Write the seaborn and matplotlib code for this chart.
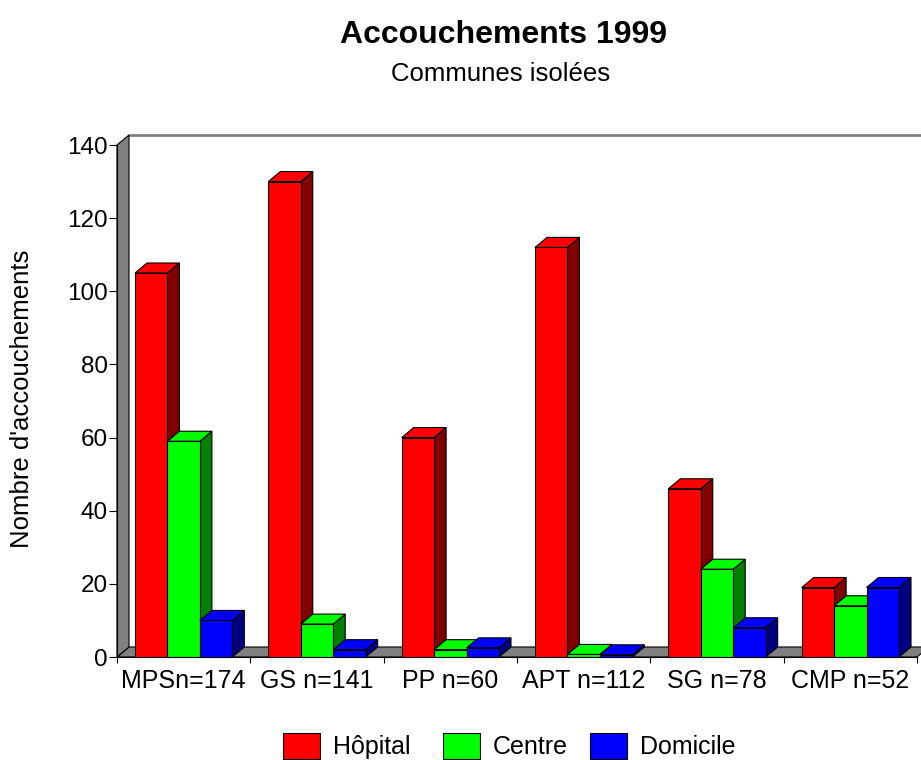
import numpy as np
import pandas as pd
import matplotlib
matplotlib.use("Agg")
import matplotlib.pyplot as plt
from matplotlib.patches import Polygon, Patch, Rectangle
from matplotlib.lines import Line2D
import seaborn as sns

# ---- data ----
categories = ["MPSn=174", "GS n=141", "PP n=60", "APT n=112", "SG n=78", "CMP n=52"]
series = ["Hôpital", "Centre", "Domicile"]
hopital = [105, 130, 60, 112, 46, 19]
centre = [59, 9, 2, 0.7, 24, 14]
domicile = [10, 2, 2.5, 0.6, 8, 19]
y_ticks = [0, 20, 40, 60, 80, 100, 120, 140]
colors = ["#FF0000", "#00FF00", "#0000FF"]

df = pd.DataFrame({
    "cat": categories * 3,
    "serie": [series[0]] * 6 + [series[1]] * 6 + [series[2]] * 6,
    "val": hopital + centre + domicile,
})

sns.set_theme(style="white")
plt.rcParams["font.family"] = ["Liberation Sans", "DejaVu Sans"]
plt.rcParams["text.color"] = "black"
plt.rcParams["xtick.color"] = "black"
plt.rcParams["ytick.color"] = "black"
plt.rcParams["axes.labelcolor"] = "black"

W, H, DPI = 921, 760, 100
fig = plt.figure(figsize=(W / DPI, H / DPI), dpi=DPI)
ax = fig.add_axes([117 / W, (H - 657) / H, 800 / W, 512 / H])
ax.set_facecolor("none")

sns.barplot(data=df, x="cat", y="val", hue="serie", palette=colors,
            order=categories, hue_order=series, width=0.73, gap=0,
            edgecolor="black", linewidth=0.8, saturation=1, legend=False, ax=ax)

bars = [p for p in ax.patches if isinstance(p, Rectangle)]
bars = sorted(bars, key=lambda p: p.get_x())

ax.set_xlim(-0.5, len(categories) - 0.5)
ax.set_ylim(0, 140)

# depth offset (12 px right, 10 px up) in data units
p0 = ax.transData.transform((0, 0))
dx, dy = ax.transData.inverted().transform(p0 + np.array([12, 10]))
x0, x1 = -0.5, len(categories) - 0.5
ymax = 140

grey = "#808080"
# floor
ax.add_patch(Polygon([(x0, 0), (x1, 0), (x1 + dx, dy), (x0 + dx, dy)],
                     closed=True, facecolor=grey, edgecolor="black", lw=0.8,
                     zorder=1, clip_on=False))
# left wall
ax.add_patch(Polygon([(x0, 0), (x0, ymax), (x0 + dx, ymax + dy), (x0 + dx, dy)],
                     closed=True, facecolor=grey, edgecolor="black", lw=0.8,
                     zorder=1, clip_on=False))
# back wall top edge
ax.add_line(Line2D([x0 + dx, x1 + 3 * dx], [ymax + dy, ymax + dy], color=grey,
                   lw=2, zorder=0.5, clip_on=False))

# 3D faces derived from seaborn's bars
for k, b in enumerate(bars):
    x, w, h = b.get_x(), b.get_width(), b.get_height()
    fc = np.array(b.get_facecolor()[:3])
    dark = tuple(fc * 0.5)
    b.set_zorder(11 + 2 * k)
    top = Polygon([(x, h), (x + w, h), (x + w + dx, h + dy), (x + dx, h + dy)],
                  closed=True, facecolor=tuple(fc), edgecolor="black", lw=0.8,
                  zorder=10 + 2 * k, clip_on=False)
    side = Polygon([(x + w, 0), (x + w + dx, dy), (x + w + dx, h + dy), (x + w, h)],
                   closed=True, facecolor=dark, edgecolor="black", lw=0.8,
                   zorder=10 + 2 * k, clip_on=False)
    ax.add_patch(side)
    ax.add_patch(top)

# axes styling
for s in ["top", "right"]:
    ax.spines[s].set_visible(False)
ax.spines["left"].set_color("black")
ax.spines["bottom"].set_color("black")
ax.spines["left"].set_linewidth(0.8)
ax.spines["bottom"].set_linewidth(0.8)
ax.spines["left"].set_zorder(50)
ax.spines["bottom"].set_zorder(50)

ax.set_yticks(y_ticks)
ax.set_yticklabels([str(v) for v in y_ticks], fontsize=17.5)
ax.tick_params(axis="y", direction="out", length=6, width=0.8, color="black",
               pad=0.5, left=True, labelcolor="black")
ax.set_xticks(range(len(categories)))
ax.set_xticklabels(categories, fontsize=18)
ax.tick_params(axis="x", which="major", length=0, pad=9, bottom=True,
               labelcolor="black")
ax.set_xticks(np.arange(len(categories) + 1) - 0.5, minor=True)
ax.tick_params(axis="x", which="minor", direction="inout", length=9, width=0.8,
               color="black", bottom=True)
ax.set_xlabel("")
ax.set_ylabel("")
ax.grid(False)

# titles
fig.text(503 / W, (H - 43) / H, "Accouchements 1999", ha="center", va="baseline",
         fontsize=23, fontweight="bold", color="black")
fig.text(501 / W, (H - 81) / H, "Communes isolées", ha="center", va="baseline",
         fontsize=18.5, color="black")
fig.text(22 / W, (H - 399) / H, "Nombre d'accouchements", rotation=90,
         ha="center", va="center", fontsize=18.5, color="black")

# legend (one entry each at its position)
leg_x = [283, 443, 590]
for lab, col, lx in zip(series, colors, leg_x):
    hnd = Patch(facecolor=col, edgecolor="black", lw=0.8)
    lg = fig.legend([hnd], [lab], loc="center left",
                    bbox_to_anchor=(lx / W, (H - 746) / H),
                    frameon=False, fontsize=18, handlelength=1.48,
                    handleheight=1.2, handletextpad=0.5, borderpad=0,
                    borderaxespad=0)
    for t in lg.get_texts():
        t.set_color("black")

fig.savefig("out.png", dpi=DPI)
